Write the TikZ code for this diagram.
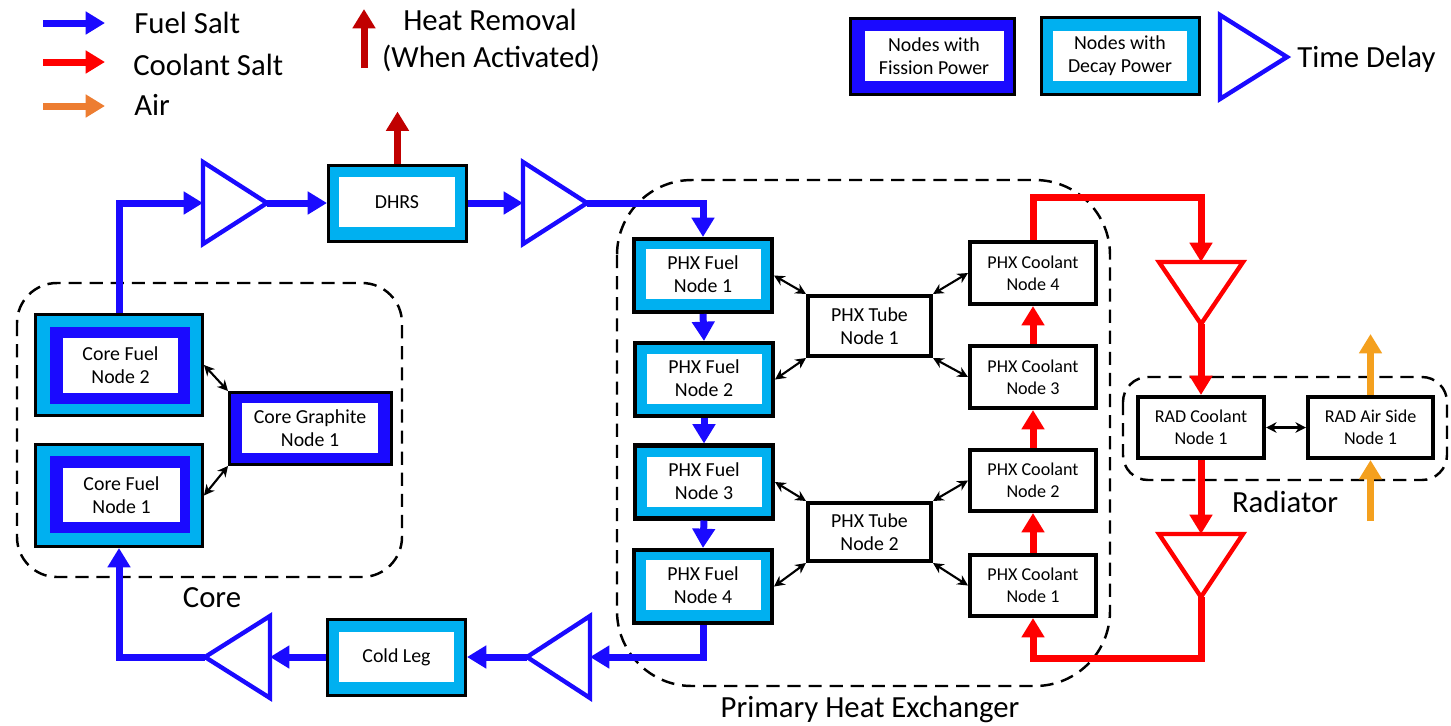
\documentclass[tikz,border=0pt]{standalone}
\usepackage{fontspec}
\setmainfont{Carlito}
\usetikzlibrary{arrows.meta,calc}

% one drawing unit
\newlength\pxu
\setlength\pxu{0.02cm}

\definecolor{fuelblue}{RGB}{26,10,255}
\definecolor{decaycyan}{RGB}{0,176,240}
\definecolor{coolred}{RGB}{255,0,0}
\definecolor{heatred}{RGB}{192,0,0}
\definecolor{airlegend}{RGB}{237,125,49}
\definecolor{airorange}{RGB}{244,160,30}

\newcommand\boxtextfont{\fontsize{11.3}{13}\selectfont}
\newcommand\coolboxfont{\fontsize{10.3}{12.4}\selectfont}
\newcommand\bigtextfont{\fontsize{17.5}{20}\selectfont}

\tikzset{
  flowline/.style={line width=7\pxu, -{Triangle[length=11pt,width=12.5pt]}},
  fuelflow/.style={flowline, draw=fuelblue},
  coolflow/.style={flowline, draw=coolred},
  heatflow/.style={flowline, draw=heatred},
  airflow/.style={flowline, draw=airorange},
  airlegflow/.style={flowline, draw=airlegend},
  exch/.style={draw=black, line width=1.2pt, {Stealth[length=6pt,width=6pt]}-{Stealth[length=6pt,width=6pt]}},
  grouprect/.style={draw=black, line width=1.4pt, dash pattern=on 7.5pt off 4.5pt},
  delayfuel/.style={draw=fuelblue, line width=2.5pt},
  delaycool/.style={draw=coolred, line width=2.5pt},
  decayouter/.style={draw=black, line width=1.7pt, fill=decaycyan, inner sep=0pt},
  decaythick/.style={draw=black, line width=2.3pt, fill=decaycyan, inner sep=0pt},
  fissionouter/.style={draw=black, line width=1.7pt, fill=fuelblue, inner sep=0pt},
  fissionband/.style={fill=fuelblue, inner sep=0pt},
  whitein/.style={fill=white, inner sep=0pt, align=center, font=\boxtextfont},
  plainbox/.style={draw=black, line width=2.3pt, fill=white, inner sep=0pt, align=center, font=\boxtextfont},
  coolbox/.style={plainbox, font=\coolboxfont},
  bigtext/.style={inner sep=0pt, font=\bigtextfont},
}

\begin{document}
\begin{tikzpicture}[x=0.02cm, y=-0.02cm]
\useasboundingbox (0,0) rectangle (1451,725);

% ---------------- legend ----------------
\draw[fuelflow] (43,23) -- (105,23);
\draw[coolflow] (43,62) -- (105,62);
\draw[airlegflow] (43,106) -- (105,106);
\node[bigtext, anchor=base west] (lfuel) at (134,33) {Fuel Salt};
\node[bigtext, anchor=base west] (lcool) at (133,75) {Coolant Salt};
\node[bigtext, anchor=base west] (lair) at (134,115) {Air};

\draw[heatflow] (364,68) -- (364,9);
\node[bigtext, anchor=base] (lheata) at (490,30) {Heat Removal};
\node[bigtext, anchor=base] (lheatb) at (491,67) {(When Activated)};

\node[fissionouter, minimum width=164\pxu, minimum height=76\pxu] (lfis) at (932.5,56.5) {};
\node[whitein, minimum width=139\pxu, minimum height=50\pxu] (lfist) at (934,56) {Nodes with\\Fission Power};
\node[decayouter, minimum width=158\pxu, minimum height=77\pxu] (ldec) at (1120.5,56) {};
\node[whitein, minimum width=134\pxu, minimum height=50\pxu] (ldect) at (1120,56) {Nodes with\\Decay Power};
\draw[delayfuel] (1220,15) -- (1287,57) -- (1220,99) -- cycle;
\node[bigtext, anchor=base west] (ldelay) at (1297,67) {Time Delay};

% ---------------- group outlines ----------------
\draw[grouprect, rounded corners=40\pxu] (17,283) rectangle (402,577);
\draw[grouprect, rounded corners=75\pxu] (617,180) rectangle (1110,686);
\draw[grouprect, rounded corners=25\pxu] (1123,377) rectangle (1447,480);
\node[bigtext, anchor=base] (lcore) at (212,607) {Core};
\node[bigtext, anchor=base] (lphx) at (870,717) {Primary Heat Exchanger};
\node[bigtext, anchor=base] (lrad) at (1285,512) {Radiator};

% ---------------- core ----------------
\node[decayouter, minimum width=167\pxu, minimum height=101\pxu] (cf2) at (119,365) {};
\node[fissionband, minimum width=140\pxu, minimum height=77\pxu] (cf2b) at (120,365.5) {};
\node[whitein, minimum width=115\pxu, minimum height=55\pxu] (cf2t) at (120.5,365.5) {Core Fuel\\Node 2};

\node[decayouter, minimum width=167\pxu, minimum height=102\pxu] (cf1) at (119,495.5) {};
\node[fissionband, minimum width=140\pxu, minimum height=77\pxu] (cf1b) at (120,494) {};
\node[whitein, minimum width=117\pxu, minimum height=54\pxu] (cf1t) at (121.5,495) {Core Fuel\\Node 1};

\node[fissionouter, minimum width=162\pxu, minimum height=72\pxu] (cg) at (310.5,428.5) {};
\node[whitein, minimum width=136\pxu, minimum height=50\pxu] (cgt) at (310,428) {Core Graphite\\Node 1};

\draw[exch] (cf2.east) -- (cg.north west);
\draw[exch] (cf1.east) -- (cg.south west);

% ---------------- time delays ----------------
\draw[delayfuel] (203,162) -- (267,203) -- (203,244) -- cycle;
\coordinate (d1in) at (203,203);
\coordinate (d1out) at (267,203);
\draw[delayfuel] (523,162) -- (587,203) -- (523,244) -- cycle;
\coordinate (d2in) at (523,203);
\coordinate (d2out) at (587,203);
\draw[delayfuel] (590,616) -- (527,657) -- (590,698) -- cycle;
\coordinate (d3in) at (590,657);
\coordinate (d3out) at (527,657);
\draw[delayfuel] (270,616) -- (205,657) -- (270,698) -- cycle;
\coordinate (d4in) at (270,657);
\coordinate (d4out) at (205,657);
\draw[delaycool] (1159,262) -- (1201,324) -- (1243,262) -- cycle;
\coordinate (r1in) at (1201,262);
\coordinate (r1out) at (1201,324);
\draw[delaycool] (1159,534) -- (1201,597) -- (1243,534) -- cycle;
\coordinate (r2in) at (1201,534);
\coordinate (r2out) at (1201,597);

% ---------------- hot leg and cold leg ----------------
\node[decayouter, minimum width=138\pxu, minimum height=76\pxu] (dhrs) at (397.5,203) {};
\node[whitein, minimum width=116\pxu, minimum height=50\pxu] (dhrst) at (397,202) {DHRS};
\node[decayouter, minimum width=138\pxu, minimum height=76\pxu] (cl) at (396.5,657) {};
\node[whitein, minimum width=115\pxu, minimum height=50\pxu] (clt) at (396.5,657) {Cold Leg};

% ---------------- primary heat exchanger ----------------
\node[decaythick, minimum width=138\pxu, minimum height=73\pxu] (f1) at (703,275.5) {};
\node[whitein, minimum width=115\pxu, minimum height=50\pxu] (f1t) at (703,274) {PHX Fuel\\Node 1};
\node[decaythick, minimum width=138\pxu, minimum height=73\pxu] (f2) at (704,379.5) {};
\node[whitein, minimum width=115\pxu, minimum height=50\pxu] (f2t) at (704,378.5) {PHX Fuel\\Node 2};
\node[decaythick, minimum width=138\pxu, minimum height=73\pxu] (f3) at (704,482) {};
\node[whitein, minimum width=115\pxu, minimum height=50\pxu] (f3t) at (704,481.5) {PHX Fuel\\Node 3};
\node[decaythick, minimum width=138\pxu, minimum height=73\pxu] (f4) at (703,586.5) {};
\node[whitein, minimum width=115\pxu, minimum height=50\pxu] (f4t) at (703,585) {PHX Fuel\\Node 4};

\node[plainbox, minimum width=123\pxu, minimum height=60\pxu] (t1) at (869.5,326) {PHX Tube\\Node 1};
\node[plainbox, minimum width=123\pxu, minimum height=58\pxu] (t2) at (869.5,532) {PHX Tube\\Node 2};

\node[coolbox, minimum width=126\pxu, minimum height=62\pxu] (c4) at (1033,273) {PHX Coolant\\Node 4};
\node[coolbox, minimum width=126\pxu, minimum height=62\pxu] (c3) at (1033,377) {PHX Coolant\\Node 3};
\node[coolbox, minimum width=126\pxu, minimum height=61\pxu] (c2) at (1033,480.5) {PHX Coolant\\Node 2};
\node[coolbox, minimum width=126\pxu, minimum height=61\pxu] (c1) at (1033,585.5) {PHX Coolant\\Node 1};

\draw[exch] (f1.east) -- (t1.north west);
\draw[exch] (f2.east) -- (t1.south west);
\draw[exch] (t1.north east) -- (c4.west);
\draw[exch] (t1.south east) -- (c3.west);
\draw[exch] (f3.east) -- (t2.north west);
\draw[exch] (f4.east) -- (t2.south west);
\draw[exch] (t2.north east) -- (c2.west);
\draw[exch] (t2.south east) -- (c1.west);

% ---------------- radiator ----------------
\node[coolbox, minimum width=126\pxu, minimum height=61\pxu] (rc) at (1201,427.5) {RAD Coolant\\Node 1};
\node[coolbox, minimum width=125\pxu, minimum height=61\pxu] (ra) at (1370.5,427.5) {RAD Air Side\\Node 1};
\draw[exch] (rc.east) -- (ra.west);

% ---------------- fuel salt loop ----------------
\draw[fuelflow] (cf2.north) |- (d1in);
\draw[fuelflow] (d1out) -- (dhrs.west);
\draw[heatflow] (dhrs.north) -- ++(0,-52);
\draw[fuelflow] (dhrs.east) -- (d2in);
\draw[fuelflow] (d2out) -| (f1.north);
\draw[fuelflow] (f1.south) -- (f2.north);
\draw[fuelflow] (f2.south) -- (f3.north);
\draw[fuelflow] (f3.south) -- (f4.north);
\draw[fuelflow] (f4.south) |- (d3in);
\draw[fuelflow] (d3out) -- (cl.east);
\draw[fuelflow] (cl.west) -- (d4in);
\draw[fuelflow] (d4out) -| (cf1.south);

% ---------------- coolant salt loop ----------------
\draw[coolflow] (c1.north) -- (c2.south);
\draw[coolflow] (c2.north) -- (c3.south);
\draw[coolflow] (c3.north) -- (c4.south);
\draw[coolflow] (c4.north) -- ++(0,-42) -| (r1in);
\draw[coolflow] (r1out) -- (rc.north);
\draw[coolflow] (rc.south) -- (r2in);
\draw[coolflow] (r2out) -- ++(0,61) -| (c1.south);

% ---------------- air ----------------
\coordinate (airin) at (1370.5,521);
\draw[airflow] (airin) -- (ra.south);
\draw[airflow] (ra.north) -- ++(0,-61);
\end{tikzpicture}
\end{document}
